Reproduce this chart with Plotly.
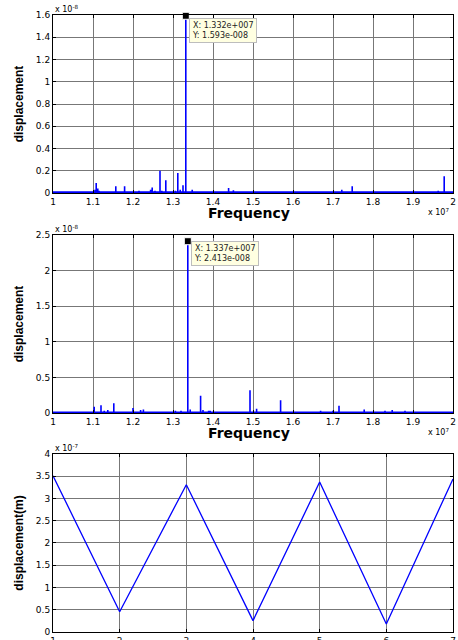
import plotly.graph_objects as go

# ---------------- data ----------------
# Spectrum 1 : frequency (x 1e7 Hz), displacement (x 1e-8)
top_freq = [1.005, 1.012, 1.105, 1.108, 1.112, 1.115, 1.135, 1.148, 1.157, 1.172,
            1.179, 1.186, 1.195, 1.205, 1.215, 1.222, 1.235, 1.244, 1.248, 1.255,
            1.262, 1.2675, 1.272, 1.282, 1.292, 1.302, 1.306, 1.312, 1.318, 1.325,
            1.332, 1.348, 1.365, 1.385, 1.405, 1.439, 1.451, 1.47, 1.49, 1.505,
            1.53, 1.56, 1.585, 1.6, 1.605, 1.64, 1.66, 1.685, 1.698, 1.71,
            1.715, 1.722, 1.748, 1.76, 1.775, 1.79, 1.8, 1.815, 1.83, 1.85,
            1.875, 1.88, 1.9, 1.915, 1.935, 1.95, 1.963, 1.978]
top_amp = [0.01, 0.01, 0.03, 0.09, 0.04, 0.02, 0.01, 0.015, 0.06, 0.01,
           0.06, 0.015, 0.01, 0.015, 0.02, 0.01, 0.01, 0.03, 0.05, 0.02,
           0.015, 0.20, 0.02, 0.115, 0.01, 0.015, 0.02, 0.18, 0.03, 0.07,
           1.593, 0.03, 0.01, 0.01, 0.01, 0.045, 0.025, 0.01, 0.015, 0.01,
           0.01, 0.01, 0.015, 0.015, 0.01, 0.01, 0.01, 0.01, 0.015, 0.01,
           0.015, 0.03, 0.06, 0.01, 0.015, 0.01, 0.015, 0.01, 0.01, 0.01,
           0.01, 0.015, 0.01, 0.01, 0.01, 0.01, 0.02, 0.15]
top_peak = (1.332, 1.593)
top_tip = "X: 1.332e+007<br>Y: 1.593e-008"

# Spectrum 2
mid_freq = [1.103, 1.12, 1.128, 1.137, 1.152, 1.165, 1.2, 1.205, 1.219, 1.226,
            1.232, 1.26, 1.28, 1.306, 1.32, 1.337, 1.343, 1.369, 1.375, 1.389,
            1.393, 1.4175, 1.4925, 1.509, 1.569, 1.5925, 1.6175, 1.669, 1.70, 1.715,
            1.745, 1.778, 1.805, 1.83, 1.848, 1.88, 1.91, 1.95]
mid_amp = [0.088, 0.11, 0.03, 0.04, 0.135, 0.02, 0.07, 0.02, 0.04, 0.05,
           0.02, 0.01, 0.01, 0.03, 0.03, 2.413, 0.05, 0.243, 0.04, 0.03,
           0.03, 0.02, 0.32, 0.06, 0.18, 0.02, 0.01, 0.03, 0.03, 0.10,
           0.01, 0.05, 0.02, 0.03, 0.04, 0.03, 0.01, 0.01]
mid_peak = (1.337, 2.413)
mid_tip = "X: 1.337e+007<br>Y: 2.413e-008"

noise_floor = 0.008

# Bottom: displacement (x 1e-7 m)
bot_x = [1, 2, 3, 4, 5, 6, 7]
bot_y = [3.51, 0.455, 3.31, 0.255, 3.37, 0.18, 3.44]

top_yticks = [0, 0.2, 0.4, 0.6, 0.8, 1, 1.2, 1.4, 1.6]
mid_yticks = [0, 0.5, 1, 1.5, 2, 2.5]
bot_yticks = [0, 0.5, 1, 1.5, 2, 2.5, 3, 3.5, 4]
freq_ticks = [1, 1.1, 1.2, 1.3, 1.4, 1.5, 1.6, 1.7, 1.8, 1.9, 2]


def spectrum_line(freqs, amps, floor, lo=1.0, hi=2.0):
    xs, ys = [lo], [floor]
    for f, a in sorted(zip(freqs, amps)):
        xs += [f, f, f]
        ys += [floor, a, floor]
    xs.append(hi)
    ys.append(floor)
    return xs, ys


BLUE = "#0000FF"
fig = go.Figure()

x1, y1 = spectrum_line(top_freq, top_amp, noise_floor)
fig.add_trace(go.Scatter(x=x1, y=y1, mode="lines", line=dict(color=BLUE, width=1.6),
                         xaxis="x", yaxis="y", showlegend=False))
x2, y2 = spectrum_line(mid_freq, mid_amp, noise_floor)
fig.add_trace(go.Scatter(x=x2, y=y2, mode="lines", line=dict(color=BLUE, width=1.6),
                         xaxis="x2", yaxis="y2", showlegend=False))
fig.add_trace(go.Scatter(x=bot_x, y=bot_y, mode="lines", line=dict(color=BLUE, width=1.3),
                         xaxis="x3", yaxis="y3", showlegend=False))

# datatip markers
for (px, py), xa, ya in [(top_peak, "x", "y"), (mid_peak, "x2", "y2")]:
    fig.add_trace(go.Scatter(x=[px], y=[py], mode="markers",
                             marker=dict(symbol="square", size=7, color="black",
                                         line=dict(color="white", width=1)),
                             xaxis=xa, yaxis=ya, showlegend=False, cliponaxis=False))

TICKFONT = dict(family="DejaVu Sans, Arial, sans-serif", size=9, color="black")
TITLE_Y = dict(family="Liberation Sans, Arial, sans-serif", size=12, color="black")
TITLE_X = dict(family="DejaVu Sans, Arial, sans-serif", size=14, color="black")

common_x = dict(showline=True, linecolor="black", linewidth=1, mirror="all",
                ticks="inside", ticklen=3, tickcolor="black",
                showgrid=True, gridcolor="#777777", gridwidth=1,
                zeroline=False, tickfont=TICKFONT, automargin=False)
common_y = dict(common_x)

dom1 = [0.7115, 1.0]
dom2 = [0.355, 0.6434]
dom3 = [0.0, 0.2885]

fig.update_layout(
    width=458, height=640,
    margin=dict(l=53, r=5, t=15, b=8, autoexpand=False),
    paper_bgcolor="white", plot_bgcolor="white",
    xaxis=dict(common_x, domain=[0, 1], anchor="y", range=[1, 2], tickvals=freq_ticks),
    yaxis=dict(common_y, domain=dom1, anchor="x", range=[0, 1.6], tickvals=top_yticks,
               title=dict(text="<b>displacement</b>", font=TITLE_Y, standoff=9)),
    xaxis2=dict(common_x, domain=[0, 1], anchor="y2", range=[1, 2], tickvals=freq_ticks),
    yaxis2=dict(common_y, domain=dom2, anchor="x2", range=[0, 2.5], tickvals=mid_yticks,
                title=dict(text="<b>displacement</b>", font=TITLE_Y, standoff=9)),
    xaxis3=dict(common_x, domain=[0, 1], anchor="y3", range=[1, 7], tickvals=bot_x),
    yaxis3=dict(common_y, domain=dom3, anchor="x3", range=[0, 4], tickvals=bot_yticks,
                title=dict(text="<b>displacement(m)</b>", font=TITLE_Y, standoff=9)),
)

SMALL = dict(family="DejaVu Sans, Arial, sans-serif", size=8, color="black")
ann = []
for xa, ya, exp in [("x", "y", "-8"), ("x2", "y2", "-8"), ("x3", "y3", "-7")]:
    ann.append(dict(xref=xa + " domain", yref=ya + " domain", x=0, y=1,
                    xanchor="left", yanchor="bottom", showarrow=False,
                    text="x 10<sup>" + exp + "</sup>", font=SMALL, xshift=0, yshift=-1))
for xa, ya in [("x", "y"), ("x2", "y2")]:
    ann.append(dict(xref=xa + " domain", yref=ya + " domain", x=1, y=0,
                    xanchor="right", yanchor="top", showarrow=False,
                    text="x 10<sup>7</sup>", font=SMALL, xshift=-2, yshift=-12))
    ann.append(dict(xref=xa + " domain", yref=ya + " domain", x=0.49, y=0,
                    xanchor="center", yanchor="top", showarrow=False, borderpad=0,
                    text="<b>Frequency</b>", font=TITLE_X, yshift=-11))
for (px, py), tip, xa, ya, ys in [(top_peak, top_tip, "x", "y", -2),
                                   (mid_peak, mid_tip, "x2", "y2", 0)]:
    ann.append(dict(xref=xa, yref=ya, x=px, y=py, xanchor="left", yanchor="top",
                    showarrow=False, text=tip, align="left",
                    font=dict(family="DejaVu Sans, Arial, sans-serif", size=8, color="#222"),
                    bgcolor="#FFFFE1", bordercolor="#BDBDBD", borderwidth=1, borderpad=2,
                    xshift=3, yshift=ys))
fig.update_layout(annotations=ann)

fig.write_html("out.html", config={"displayModeBar": False},
               post_script="document.body.style.margin='0px';document.body.style.overflow='hidden';")
